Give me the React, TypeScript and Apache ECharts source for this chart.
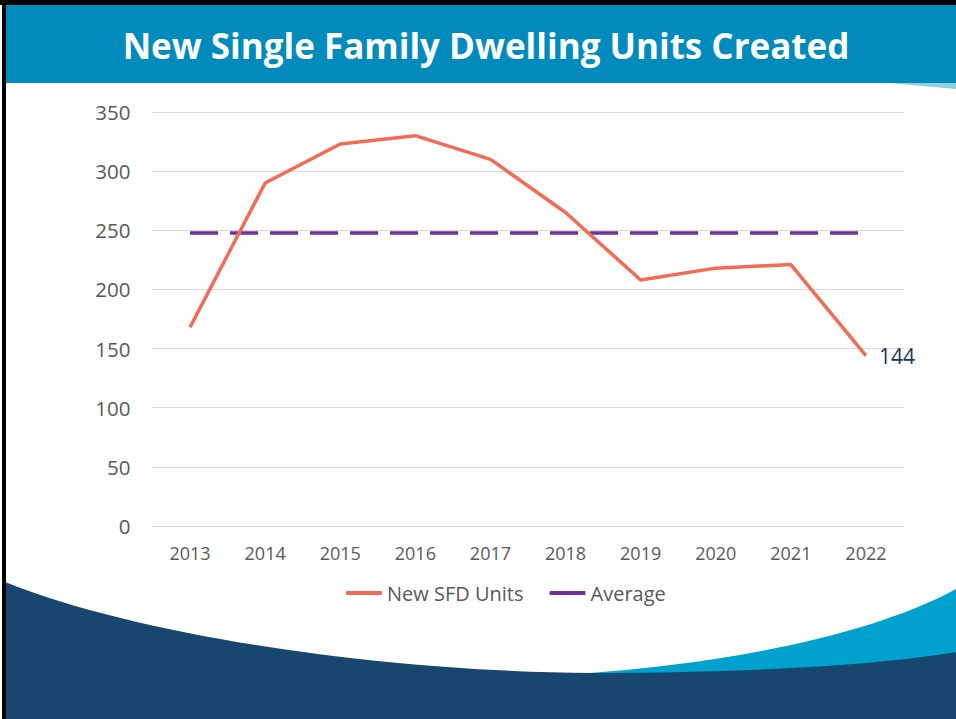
import React, { useEffect, useRef } from "react";
import * as echarts from "echarts";

const years = ["2013", "2014", "2015", "2016", "2017", "2018", "2019", "2020", "2021", "2022"];
const newSfdUnits = [168, 290, 323, 330, 310, 265, 208, 218, 221, 144];
const averageUnits = [247.7, 247.7, 247.7, 247.7, 247.7, 247.7, 247.7, 247.7, 247.7, 247.7];
const titleText = "New Single Family Dwelling Units Created";
const seriesNames = ["New SFD Units", "Average"];

const NAVY_PATH = "M5,582 C150,640 400,672 593,673 C750,673 880,665 956,652 L956,719 L5,719 Z";
const LIGHT_PATH = "M575,674 C720,665 870,636 956,589 L956,705 L575,705 Z";
const SWOOSH_PATH = "M890,83 L956,83 L956,89 C935,87 910,85 890,83 Z";

let registered = false;
function registerShapes() {
  if (registered) return;
  registered = true;
  echarts.graphic.registerShape("navyWave", echarts.graphic.extendPath(NAVY_PATH, {}));
  echarts.graphic.registerShape("lightWave", echarts.graphic.extendPath(LIGHT_PATH, {}));
  echarts.graphic.registerShape("swoosh", echarts.graphic.extendPath(SWOOSH_PATH, {}));
}

export default function App() {
  const ref = useRef<HTMLDivElement>(null);
  useEffect(() => {
    document.body.style.margin = "0";
    registerShapes();
    const chart = echarts.init(ref.current!, undefined, { renderer: "svg" });
    const font = '"Open Sans", "Noto Sans", sans-serif';
    chart.setOption({
      animation: false,
      backgroundColor: "#ffffff",
      textStyle: { fontFamily: font },
      graphic: [
        { type: "lightWave", x: 0, y: 0, z: 0, silent: true, style: { fill: "#00A1CC" } },
        { type: "navyWave", x: 0, y: 0, z: 1, silent: true, style: { fill: "#17476F" } },
        { type: "rect", z: 0, silent: true, shape: { x: 5, y: 5, width: 951, height: 78 }, style: { fill: "#008BBC" } },
        { type: "swoosh", x: 0, y: 0, z: 0, silent: true, style: { fill: "#8FCFE0" } },
        { type: "rect", z: 2, silent: true, shape: { x: 0, y: 0, width: 956, height: 5 }, style: { fill: "#000000" } },
        { type: "rect", z: 2, silent: true, shape: { x: 2, y: 0, width: 4, height: 719 }, style: { fill: "#000000" } },
        {
          type: "text",
          z: 3,
          x: 486,
          y: 45,
          style: {
            text: titleText,
            fill: "#ffffff",
            font: `bold 35px ${font}`,
            align: "center",
            verticalAlign: "middle",
          },
        },
      ],
      grid: { left: 152.5, right: 52.5, top: 112, bottom: 193, containLabel: false },
      legend: {
        left: 341,
        top: 578,
        itemWidth: 36,
        itemHeight: 4,
        itemGap: 26,
        icon: "roundRect",
        textStyle: { fontSize: 20, color: "#595959", fontFamily: font },
        data: seriesNames,
      },
      xAxis: {
        type: "category",
        data: years,
        boundaryGap: true,
        axisLine: { show: true, lineStyle: { color: "#D9D9D9", width: 1 } },
        axisTick: { show: false },
        axisLabel: { color: "#595959", fontSize: 18, margin: 18, fontFamily: font },
      },
      yAxis: {
        type: "value",
        min: 0,
        max: 350,
        interval: 50,
        axisLine: { show: false },
        axisTick: { show: false },
        splitLine: { lineStyle: { color: "#D9D9D9", width: 1 } },
        axisLabel: { color: "#595959", fontSize: 20.5, margin: 22, fontFamily: font },
      },
      series: [
        {
          name: seriesNames[0],
          type: "line",
          data: newSfdUnits,
          color: "#F36B55",
          symbol: "none",
          lineStyle: { width: 3.5, color: "#F36B55" },
          z: 3,
          label: { show: false },
          endLabel: {
            show: true,
            color: "#17375E",
            fontSize: 21,
            distance: 13,
            fontFamily: font,
            formatter: (p: any) => String(p.value),
          },
        },
        {
          name: seriesNames[1],
          type: "line",
          data: averageUnits,
          color: "#7030A0",
          symbol: "none",
          lineStyle: { width: 3.5, color: "#7030A0", type: [28, 12] },
          z: 2,
        },
      ],
    });
    return () => chart.dispose();
  }, []);
  return <div ref={ref} style={{ width: 956, height: 719 }} />;
}
